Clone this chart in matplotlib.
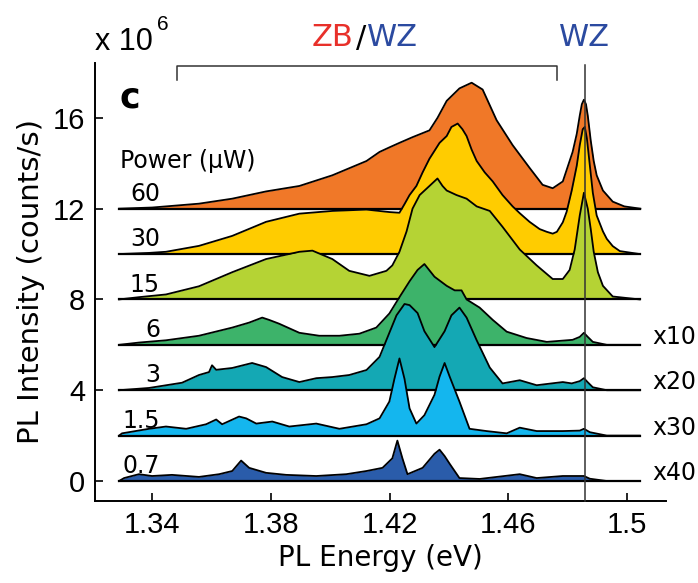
import matplotlib.pyplot as plt

# heights above each baseline, 10^6 counts/s (already multiplied by the x-factor)
e_60 = [1.3289, 1.3400, 1.3447, 1.3558, 1.3670, 1.3784, 1.3896, 1.4007, 1.4122, 1.4166, 1.4199, 1.4233, 1.4277,
        1.4334, 1.4361, 1.4392, 1.4435, 1.4476, 1.4513, 1.4560, 1.4614, 1.4671, 1.4715, 1.4749, 1.4783, 1.4816,
        1.4830, 1.4840, 1.4847, 1.4854, 1.4861, 1.4867, 1.4877, 1.4887, 1.4897, 1.4918, 1.4951, 1.4990, 1.5044]
i_60 = [0, 0.05, 0.1, 0.22, 0.44, 0.76, 1.0, 1.47, 2.1, 2.5, 2.7, 2.9, 3.15,
        3.45, 4.0, 4.75, 5.3, 5.55, 5.25, 3.9, 2.8, 1.8, 1.05, 0.9, 1.2, 2.5,
        3.3, 4.1, 4.6, 4.8, 4.6, 4.1, 3.0, 2.1, 1.47, 0.8, 0.31, 0.1, 0]

e_30 = [1.3289, 1.3390, 1.3447, 1.3558, 1.3670, 1.3784, 1.3896, 1.4007, 1.4122, 1.4199, 1.4233, 1.4250, 1.4267,
        1.4290, 1.4311, 1.4334, 1.4368, 1.4392, 1.4408, 1.4429, 1.4445, 1.4459, 1.4476, 1.4493, 1.4520, 1.4547,
        1.4580, 1.4614, 1.4638, 1.4671, 1.4705, 1.4729, 1.4749, 1.4763, 1.4783, 1.4796, 1.4813, 1.4830, 1.4840,
        1.4850, 1.4857, 1.4864, 1.4874, 1.4884, 1.4897, 1.4918, 1.4931, 1.4951, 1.4975, 1.5042]
i_30 = [0, 0.05, 0.1, 0.36, 0.8, 1.42, 1.78, 1.9, 1.96, 1.85, 1.82, 2.2, 2.6,
        3.0, 3.6, 4.2, 4.9, 5.2, 5.6, 5.75, 5.5, 5.2, 4.6, 4.1, 3.6, 3.2,
        2.6, 2.1, 1.8, 1.42, 1.1, 0.98, 0.9, 0.98, 1.4, 1.87, 2.8, 3.9, 4.8,
        5.5, 5.6, 5.1, 3.9, 2.7, 1.7, 1.0, 0.67, 0.35, 0.13, 0]

e_15 = [1.3289, 1.3356, 1.3447, 1.3558, 1.3670, 1.3784, 1.3896, 1.3940, 1.4007, 1.4064, 1.4132, 1.4189, 1.4209,
        1.4233, 1.4257, 1.4277, 1.4301, 1.4334, 1.4361, 1.4378, 1.4392, 1.4425, 1.4459, 1.4493, 1.4537, 1.4580,
        1.4638, 1.4695, 1.4749, 1.4783, 1.4806, 1.4823, 1.4840, 1.4854, 1.4867, 1.4877, 1.4887, 1.4901, 1.4918,
        1.4951, 1.5042]
i_15 = [0, 0.1, 0.22, 0.58, 1.2, 1.78, 2.1, 2.15, 1.78, 1.26, 1.04, 1.26, 1.5,
        2.1, 3.0, 4.0, 4.6, 5.0, 5.33, 5.0, 4.8, 4.6, 4.44, 4.1, 3.9, 3.2,
        2.2, 1.5, 0.9, 0.9, 1.3, 2.2, 3.7, 4.7, 4.0, 3.1, 2.1, 1.2, 0.6,
        0.13, 0]

e_6 = [1.3289, 1.3356, 1.3447, 1.3558, 1.3670, 1.3727, 1.3771, 1.3794, 1.3828, 1.3896, 1.3963, 1.4031, 1.4098,
       1.4155, 1.4199, 1.4233, 1.4267, 1.4294, 1.4317, 1.4351, 1.4392, 1.4419, 1.4442, 1.4459, 1.4503, 1.4547,
       1.4594, 1.4661, 1.4729, 1.4816, 1.4840, 1.4854, 1.4867, 1.4884, 1.4931, 1.5042]
i_6 = [0, 0.1, 0.2, 0.4, 0.76, 0.98, 1.2, 1.1, 0.93, 0.53, 0.4, 0.4, 0.49,
       0.76, 1.38, 2.1, 2.8, 3.3, 3.56, 3.0, 2.6, 2.4, 2.4, 2.0, 1.64, 1.1,
       0.58, 0.3, 0.13, 0.22, 0.35, 0.53, 0.35, 0.13, 0, 0]

e_3 = [1.3289, 1.3390, 1.3501, 1.3558, 1.3592, 1.3602, 1.3616, 1.3670, 1.3737, 1.3784, 1.3838, 1.3896, 1.3953,
       1.4007, 1.4064, 1.4122, 1.4166, 1.4199, 1.4223, 1.4250, 1.4267, 1.4294, 1.4317, 1.4351, 1.4385, 1.4408,
       1.4435, 1.4459, 1.4493, 1.4537, 1.4580, 1.4638, 1.4695, 1.4783, 1.4813, 1.4840, 1.4854, 1.4867, 1.4884,
       1.4931, 1.5042]
i_3 = [0, 0.1, 0.33, 0.67, 0.8, 1.1, 0.9, 0.98, 1.2, 1.02, 0.58, 0.36, 0.53,
       0.58, 0.67, 0.89, 1.47, 2.53, 3.3, 3.8, 3.75, 3.4, 2.6, 1.9, 2.6, 3.3,
       3.64, 3.2, 2.2, 1.0, 0.3, 0.44, 0.22, 0.36, 0.3, 0.4, 0.53, 0.35, 0.13,
       0, 0]

e_1p5 = [1.3289, 1.3299, 1.3390, 1.3447, 1.3515, 1.3582, 1.3616, 1.3636, 1.3693, 1.3717, 1.3751, 1.3805, 1.3862,
         1.3953, 1.4031, 1.4122, 1.4166, 1.4199, 1.4216, 1.4233, 1.4250, 1.4267, 1.4290, 1.4317, 1.4351, 1.4368,
         1.4385, 1.4402, 1.4435, 1.4469, 1.4526, 1.4594, 1.4638, 1.4695, 1.4783, 1.4840, 1.4854, 1.4874, 1.4931,
         1.5042]
i_1p5 = [0, 0.1, 0.3, 0.4, 0.3, 0.5, 0.71, 0.5, 0.84, 0.76, 0.53, 0.62, 0.4,
         0.53, 0.3, 0.5, 0.76, 1.5, 2.5, 3.4, 2.5, 1.2, 0.53, 0.9, 1.8, 2.6,
         3.2, 2.6, 1.5, 0.3, 0.2, 0.1, 0.35, 0.2, 0.2, 0.22, 0.3, 0.15, 0,
         0]

e_0p7 = [1.3289, 1.3306, 1.3356, 1.3400, 1.3467, 1.3558, 1.3626, 1.3670, 1.3700, 1.3727, 1.3784, 1.3852, 1.3953,
         1.4054, 1.4122, 1.4176, 1.4209, 1.4226, 1.4243, 1.4260, 1.4311, 1.4351, 1.4368, 1.4385, 1.4402, 1.4435,
         1.4503, 1.4638, 1.4695, 1.4783, 1.4854, 1.4874, 1.4931, 1.5042]
i_0p7 = [0, 0.13, 0.3, 0.22, 0.27, 0.18, 0.3, 0.44, 0.9, 0.58, 0.36, 0.27, 0.22,
         0.3, 0.44, 0.58, 1.0, 1.78, 1.0, 0.3, 0.58, 1.2, 1.38, 1.1, 0.76, 0.13,
         0.09, 0.3, 0.13, 0.22, 0.22, 0.1, 0, 0]

powers = ["60", "30", "15", "6", "3", "1.5", "0.7"]
factors = ["", "", "", "x10", "x20", "x30", "x40"]
offsets = [12, 10, 8, 6, 4, 2, 0]
energies = [e_60, e_30, e_15, e_6, e_3, e_1p5, e_0p7]
intens = [i_60, i_30, i_15, i_6, i_3, i_1p5, i_0p7]
colors = ["#f07828", "#ffcc00", "#b5d334", "#3db36a", "#14a8b4", "#14b6ee", "#2a5caa"]

fig = plt.figure(figsize=(6.98, 5.83), dpi=100)
ax = fig.add_axes([0.1361, 0.1407, 0.954 - 0.1361, 0.892 - 0.1407])

for k in range(len(powers)):
    base = offsets[k]
    y = [base + v for v in intens[k]]
    z = 2 + k * 3
    ax.fill_between(energies[k], base, y, color=colors[k], lw=0, zorder=z)
    ax.plot(energies[k], y, color="black", lw=1.3, zorder=z + 1)
    ax.plot([energies[k][0], energies[k][-1]], [base, base], color="black", lw=1.6, zorder=z + 1)
    ax.text(1.3427, base + 0.12, powers[k], ha="right", va="bottom", fontsize=17, zorder=30)
    if factors[k]:
        ax.text(1.5085, base + 0.35, factors[k], ha="left", va="center", fontsize=17, clip_on=False)

# WZ marker line and ZB/WZ bracket
ax.plot([1.4857, 1.4857], [-0.88, 18.33], color="#333333", lw=1.1, zorder=40, clip_on=False)
ax.plot([1.3484, 1.3484, 1.4763, 1.4763], [17.67, 18.29, 18.29, 17.67], color="#333333", lw=1.1, clip_on=False)

ax.set_xlim(1.3208, 1.513)
ax.set_ylim(-0.88, 18.42)
ax.set_xticks([1.34, 1.38, 1.42, 1.46, 1.5])
ax.set_xticklabels(["1.34", "1.38", "1.42", "1.46", "1.5"], family="Liberation Sans", fontsize=21)
ax.set_yticks([0, 4, 8, 12, 16])
ax.set_yticklabels(["0", "4", "8", "12", "16"], family="Liberation Sans", fontsize=21)
ax.tick_params(direction="in", length=6, width=1.2, pad=7)
for s in ["top", "right"]:
    ax.spines[s].set_visible(False)
for s in ["left", "bottom"]:
    ax.spines[s].set_linewidth(1.4)

ax.set_xlabel("PL Energy (eV)", fontsize=20, labelpad=4)
ax.set_ylabel("PL Intensity (counts/s)", fontsize=21, labelpad=6)

ax.text(1.3326, 16.9, "c", fontsize=25, fontweight="bold", ha="center", va="center")
ax.text(1.3292, 14.1, "Power (\u00b5W)", fontsize=17, ha="left", va="center")

fig.text(95 / 698, 1 - 50 / 583, "x 10", family="Liberation Sans", fontsize=22, ha="left", va="baseline")
fig.text(157 / 698, 1 - 30 / 583, "6", family="Liberation Sans", fontsize=15, ha="left", va="baseline")
fig.text(312 / 698, 1 - 38 / 583, "ZB", color="#e8302a", fontsize=22, ha="left", va="center")
fig.text(356 / 698, 1 - 38 / 583, "/", color="black", fontsize=22, ha="left", va="center")
fig.text(367 / 698, 1 - 38 / 583, "WZ", color="#2b4aa0", fontsize=22, ha="left", va="center")
fig.text(584 / 698, 1 - 38 / 583, "WZ", color="#2b4aa0", fontsize=22, ha="center", va="center")

fig.savefig("out.png", dpi=100)
plt.close(fig)
